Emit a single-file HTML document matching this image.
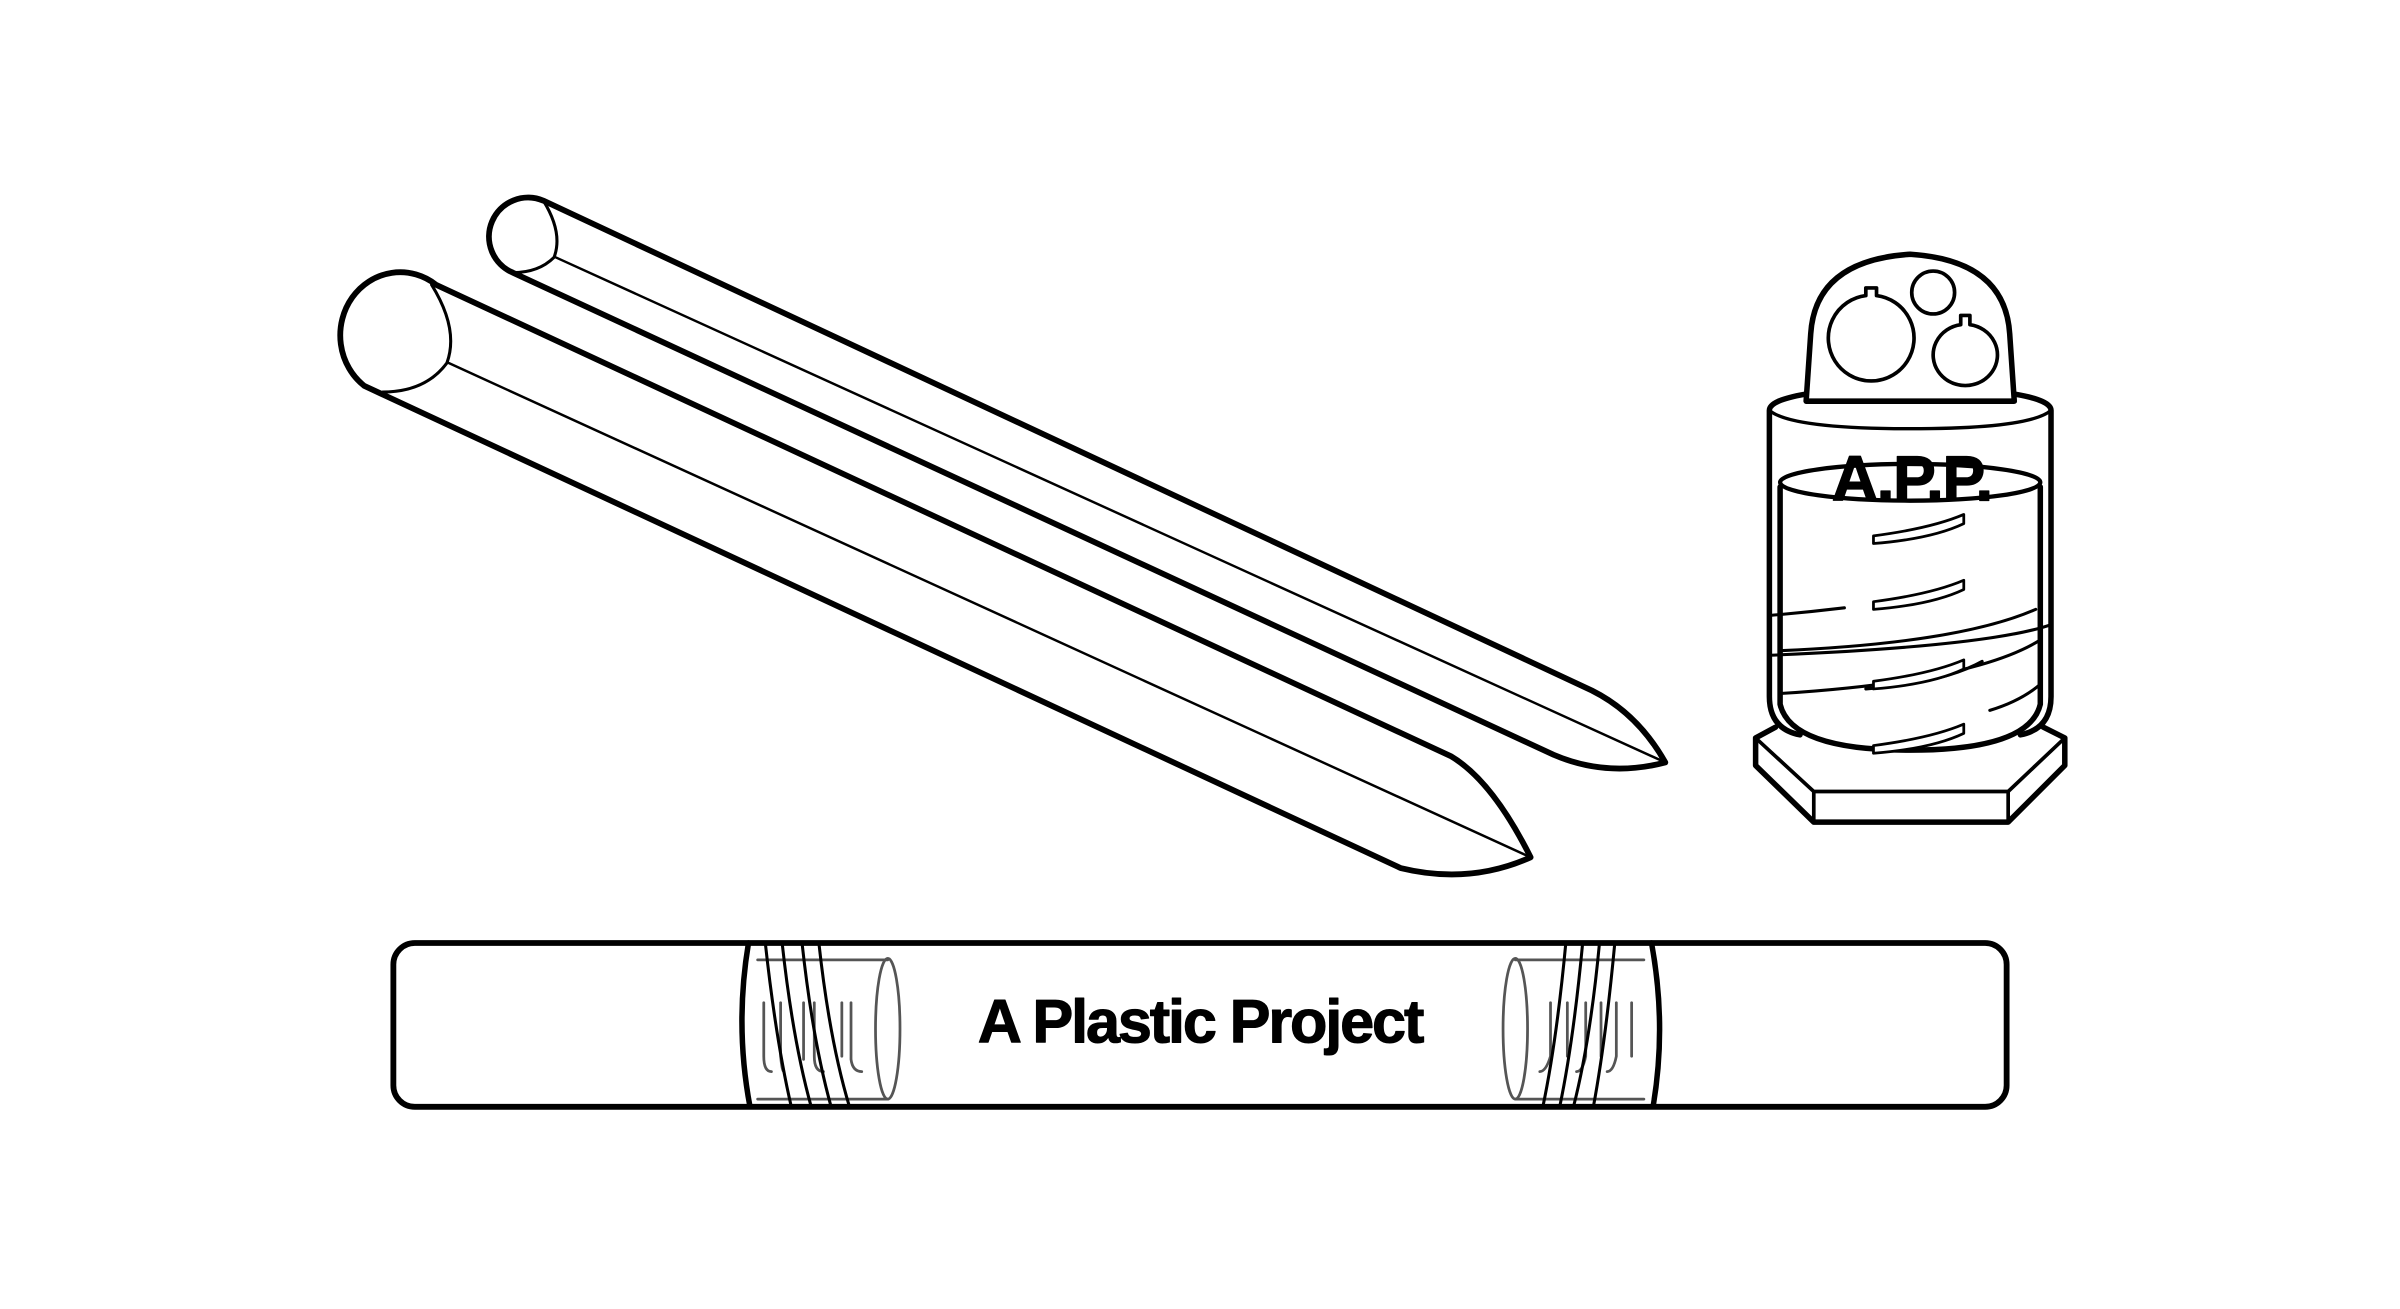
<!DOCTYPE html>
<html><head><meta charset="utf-8"><style>
html,body{margin:0;padding:0;background:#fff;width:2400px;height:1309px;overflow:hidden}
svg{display:block}
</style></head><body>
<svg width="2400" height="1309" viewBox="0 0 1568 855" xmlns="http://www.w3.org/2000/svg" fill="none" stroke="#000" stroke-linecap="round" stroke-linejoin="round">
<rect width="1568" height="855" fill="#fff" stroke="none"/>
<!-- big pencil -->
<path d="M285,186 L948,494 Q975,510 1000,560 Q960,578 915,567 L238,252 A38,40 0 1 1 285,186 Z" stroke-width="3.8" fill="#fff"/>
<path d="M282,186 Q300,215 292,237 Q278,256 250,256" stroke-width="2"/>
<path d="M293,237 L1000,560" stroke-width="1.6"/>
<!-- small pencil -->
<path d="M355,131 L1040,451 Q1070,466 1088,498 Q1050,508 1015,493 L335,178 A23,23 0 1 1 355,131 Z" stroke-width="3.8" fill="#fff"/>
<path d="M355,131 Q368,152 362,168 Q352,178 335,178" stroke-width="2"/>
<path d="M363,168 L1088,498" stroke-width="1.6"/>
<!-- robot base -->
<path d="M1160,475 L1147,482 L1147,500 L1185,537 L1312,537 L1349,500 L1349,482 L1335,475" stroke-width="3.6" fill="#fff"/>
<path d="M1147,482 L1185,517 L1312,517 L1349,482 M1185,517 L1185,537 M1312,517 L1312,537" stroke-width="2.4"/>
<!-- outer cylinder -->
<path d="M1156,268 Q1156,255 1248,252 Q1340,255 1340,268 L1340,455 Q1340,476 1320,480 M1156,268 L1156,455 Q1156,476 1176,480" stroke-width="3.6" fill="#fff"/>
<path d="M1156,268 Q1170,280 1248,280 Q1326,280 1340,268" stroke-width="2.2"/>
<!-- inner cylinder -->
<path d="M1163,318 L1163,460 Q1170,490 1248,490 Q1326,490 1333,460 L1333,318" stroke-width="3.6" fill="#fff"/>
<ellipse cx="1248" cy="315" rx="85" ry="12" stroke-width="2.8"/>
<path d="M1156,402 Q1180,400 1205,397 M1163,425 Q1280,420 1330,398 M1156,428 Q1300,422 1340,408 M1163,453 Q1290,445 1333,418 M1219,450 Q1270,446 1295,432 M1300,464 Q1320,458 1333,447" stroke-width="2"/>
<path d="M1224,350 L1224,355 Q1262,352 1283,342 L1283,336 Q1262,345 1224,350 Z M1224,393 L1224,398 Q1262,395 1283,385 L1283,379 Q1262,388 1224,393 Z M1224,445 L1224,450 Q1262,447 1283,437 L1283,431 Q1262,440 1224,445 Z M1224,487 L1224,492 Q1262,489 1283,479 L1283,473 Q1262,482 1224,487 Z" stroke-width="1.8" fill="#fff"/>
<text x="1249" y="327" font-family="Liberation Sans, sans-serif" font-weight="bold" font-size="42" text-anchor="middle" fill="#000" stroke="#000" stroke-width="0.8" letter-spacing="-1">A.P.P.</text>
<!-- dome -->
<path d="M1180,262 L1183,218 Q1186,170 1248,166 Q1310,170 1313,218 L1316,262 Z" stroke-width="3.6" fill="#fff"/>
<path d="M1219,193 L1219,188 L1226,188 L1226,193 A28,28 0 1 1 1219,193 Z" stroke-width="2.4"/>
<circle cx="1263" cy="191" r="14" stroke-width="2.4"/>
<path d="M1281,212 L1281,206 L1287,206 L1287,212 A21,20 0 1 1 1281,212 Z" stroke-width="2.4"/>
<!-- bar -->
<rect x="257" y="616" width="1054" height="107" rx="14" stroke-width="3.8" fill="#fff"/>
<g stroke="#555" stroke-width="1.8">
<path d="M495,627 L580,627 M495,718 L580,718"/>
<ellipse cx="580" cy="672" rx="8" ry="46"/>
<path d="M1074,627 L990,627 M1074,718 L990,718"/>
<ellipse cx="990" cy="672" rx="8" ry="46"/>
<path d="M499,655 L499,690 Q499,700 504,700 M510,655 L510,690 Q511,700 512,700 M525,655 L525,692 M532,655 L532,690 Q532,700 538,700 M550,655 L550,690 M556,655 L556,692 Q557,700 563,700"/>
<path d="M1013,655 L1013,690 Q1010,700 1006,700 M1024,655 L1024,690 M1036,655 L1036,690 Q1034,700 1030,700 M1046,655 L1046,690 M1056,655 L1056,690 Q1054,700 1050,700 M1066,655 L1066,690"/>
</g>
<g stroke-width="2">
<path d="M500,616 Q507,680 517,723 M511,616 Q518,680 530,723 M524,616 Q531,680 543,723 M535,616 Q542,680 555,723"/>
<path d="M1055,616 Q1049,680 1041,723 M1045,616 Q1039,680 1028,723 M1034,616 Q1028,680 1019,723 M1023,616 Q1017,680 1008,723"/>
</g>
<path d="M489,616 Q480,670 490,723 M1079,616 Q1089,670 1080,723" stroke-width="3.6"/>
<text x="784" y="681" font-family="Liberation Sans, sans-serif" font-weight="bold" font-size="40" text-anchor="middle" fill="#000" stroke="#000" stroke-width="0.7" letter-spacing="-1.4">A Plastic Project</text>
</svg>
</body></html>
